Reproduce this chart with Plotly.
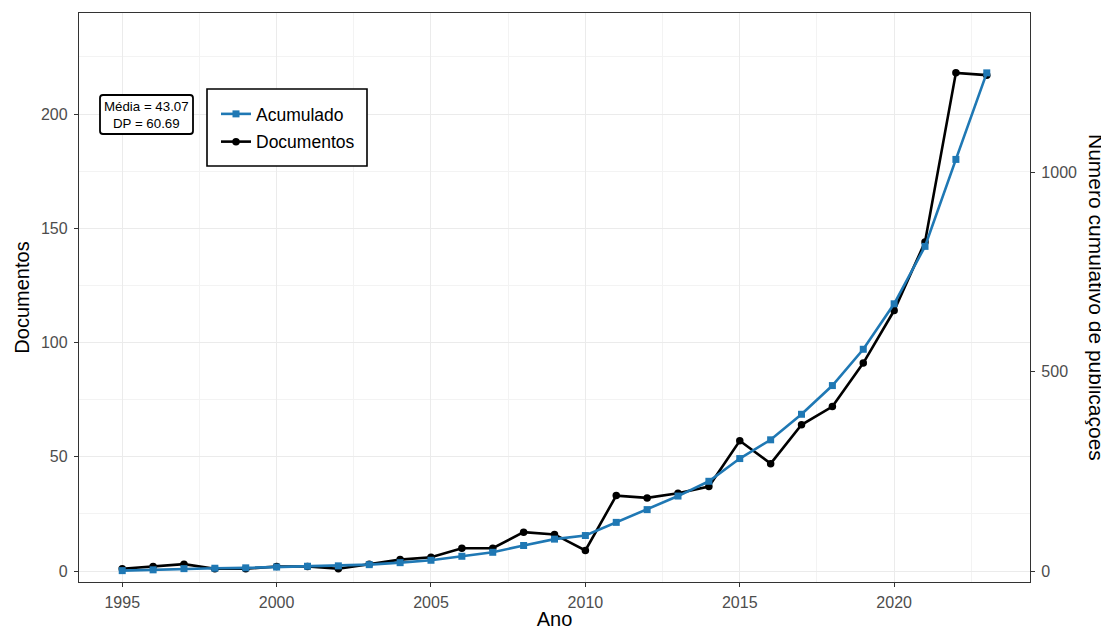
import numpy as np
import plotly.graph_objects as go

anos = list(range(1995, 2024))
documentos = [1, 2, 3, 1, 1, 2, 2, 1, 3, 5, 6, 10, 10, 17, 16, 9, 33, 32, 34, 37,
              57, 47, 64, 72, 91, 114, 144, 218, 217]
acumulado = list(np.cumsum(documentos))

media = np.mean(documentos)
dp = np.std(documentos, ddof=1)

blue = "#1F78B4"
font_family = "Liberation Sans, Arial, sans-serif"

# page body adds an 8px margin around the figure; work in screen pixels
OFF = 8
W, H = 1109 - OFF, 630 - OFF
PL, PR, PT, PB = 79, 1030, 13, 582  # plot area in screen pixels


def px_x(X):
    return (X - PL) / (PR - PL)


def px_y(Y):
    return (PB - Y) / (PB - PT)


y_range = [-4.8, 244.2]
scale = acumulado[-1] / max(documentos)
y2_range = [y_range[0] * scale, y_range[1] * scale]

fig = go.Figure()
fig.add_trace(go.Scatter(
    x=anos, y=documentos, name="Documentos", mode="lines+markers",
    line=dict(color="black", width=2.6),
    marker=dict(symbol="circle", size=7.5, color="black"),
    legendrank=2, legendgroup="b", yaxis="y",
))
fig.add_trace(go.Scatter(
    x=anos, y=acumulado, name="Acumulado", mode="lines+markers",
    line=dict(color=blue, width=2.6),
    marker=dict(symbol="square", size=7, color=blue),
    legendrank=1, legendgroup="a", yaxis="y2",
))

axis_common = dict(
    showline=True, linecolor="#333333", linewidth=1.3,
    ticks="outside", ticklen=4, tickcolor="#333333", tickwidth=1,
    tickfont=dict(family=font_family, size=16, color="#4D4D4D"),
    zeroline=False, automargin=False,
)

fig.update_layout(
    width=W, height=H,
    margin=dict(l=PL - OFF, r=W - (PR - OFF), t=PT - OFF, b=H - (PB - OFF)),
    paper_bgcolor="white", plot_bgcolor="white",
    font=dict(family=font_family),
    xaxis=dict(
        range=[1993.6, 2024.4], tick0=1995, dtick=5, mirror=True,
        showgrid=True, gridcolor="#EBEBEB", gridwidth=1.1,
        minor=dict(tick0=1995, dtick=2.5, showgrid=True, gridcolor="#F3F3F3", gridwidth=0.6, ticks=""),
        title=dict(text="Ano", font=dict(family=font_family, size=20, color="black"), standoff=3),
        ticklabelstandoff=2,
        **axis_common,
    ),
    yaxis=dict(
        range=y_range, tick0=0, dtick=50, mirror=True,
        showgrid=True, gridcolor="#EBEBEB", gridwidth=1.1,
        minor=dict(tick0=0, dtick=25, showgrid=True, gridcolor="#F3F3F3", gridwidth=0.6, ticks=""),
        title=dict(text="Documentos", font=dict(family=font_family, size=20, color="black"), standoff=5),
        ticklabelstandoff=3,
        **axis_common,
    ),
    yaxis2=dict(
        range=y2_range, overlaying="y", side="right",
        tickvals=[0, 500, 1000], showgrid=False,
        ticklabelstandoff=3,
        **axis_common,
    ),
    legend=dict(
        x=px_x(216), y=px_y(128), xanchor="left", yanchor="middle",
        borderwidth=0, bgcolor="rgba(0,0,0,0)",
        font=dict(family=font_family, size=17.5, color="black"),
        itemwidth=30, tracegroupgap=2, traceorder="grouped",
    ),
    showlegend=True,
)

# legend frame
fig.add_shape(type="rect", xref="paper", yref="paper",
              x0=px_x(207), x1=px_x(367), y0=px_y(166), y1=px_y(89),
              line=dict(color="black", width=1.6), fillcolor="white", layer="above")
# rounded label frame for the statistics
bx0, bx1, by0, by1 = 100, 193, 95, 134
r = 3
path = (f"M {px_x(bx0 + r)},{px_y(by0)} L {px_x(bx1 - r)},{px_y(by0)} "
        f"Q {px_x(bx1)},{px_y(by0)} {px_x(bx1)},{px_y(by0 + r)} "
        f"L {px_x(bx1)},{px_y(by1 - r)} Q {px_x(bx1)},{px_y(by1)} {px_x(bx1 - r)},{px_y(by1)} "
        f"L {px_x(bx0 + r)},{px_y(by1)} Q {px_x(bx0)},{px_y(by1)} {px_x(bx0)},{px_y(by1 - r)} "
        f"L {px_x(bx0)},{px_y(by0 + r)} Q {px_x(bx0)},{px_y(by0)} {px_x(bx0 + r)},{px_y(by0)} Z")
fig.add_shape(type="path", xref="paper", yref="paper", path=path,
              line=dict(color="black", width=1.8), fillcolor="white", layer="above")

fig.add_annotation(
    x=px_x((bx0 + bx1) / 2), y=px_y((by0 + by1) / 2), xref="paper", yref="paper",
    text=f"Média = {media:.2f}<br>DP = {dp:.2f}",
    showarrow=False, align="center", xanchor="center", yanchor="middle",
    font=dict(family=font_family, size=13.3, color="black"),
)

fig.add_annotation(
    x=px_x(1097), y=px_y(297), xref="paper", yref="paper",
    text="Número cumulativo de publicações", textangle=90,
    showarrow=False, xanchor="center", yanchor="middle",
    font=dict(family=font_family, size=21, color="black"),
)

fig.write_html("out.html")
